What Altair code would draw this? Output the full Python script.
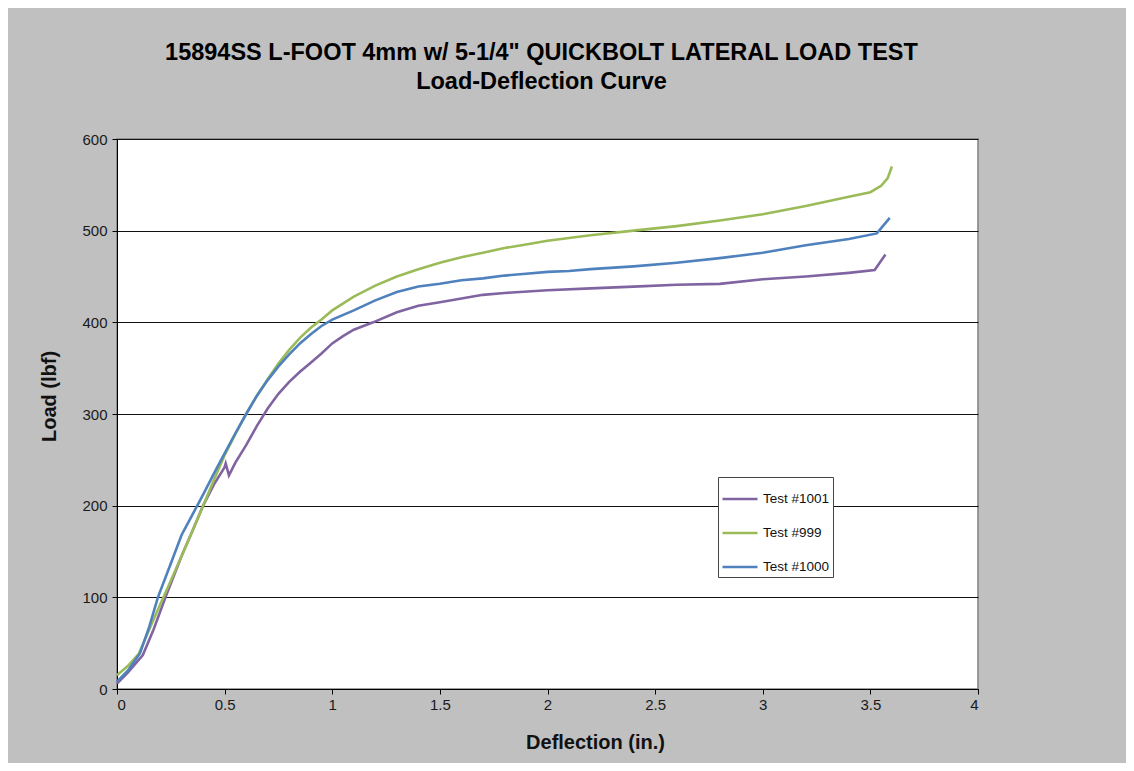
import altair as alt
import pandas as pd

series_names = ["Test #1001", "Test #999", "Test #1000"]
series_colors = ["#8064A2", "#9BBB59", "#4F81BD"]

# Test #1001 (purple)
defl_1001 = [0, 0.05, 0.12, 0.17, 0.225, 0.3, 0.35, 0.4, 0.45, 0.5, 0.505, 0.52, 0.55, 0.6,
             0.65, 0.7, 0.75, 0.8, 0.85, 0.9, 0.95, 1.0, 1.05, 1.1, 1.19, 1.3, 1.4, 1.5,
             1.6, 1.7, 1.8, 2.0, 2.2, 2.4, 2.6, 2.8, 3.0, 3.2, 3.4, 3.52, 3.57]
load_1001 = [6, 18, 37, 65, 100, 145, 172, 200, 223, 242, 246, 233, 247, 266,
             287, 306, 322, 335, 346, 356, 366, 377, 385, 392, 400, 411, 418, 422,
             426, 430, 432, 435, 437, 439, 441, 442, 447, 450, 454, 457, 474]

# Test #999 (green)
defl_999 = [0, 0.05, 0.1, 0.15, 0.2, 0.25, 0.3, 0.35, 0.4, 0.45, 0.5, 0.55, 0.6, 0.65,
            0.7, 0.75, 0.8, 0.85, 0.9, 0.95, 1.0, 1.1, 1.2, 1.3, 1.4, 1.5, 1.6, 1.7,
            1.8, 1.9, 2.0, 2.2, 2.4, 2.6, 2.8, 3.0, 3.2, 3.4, 3.5, 3.55, 3.58, 3.6]
load_999 = [15, 25, 38, 65, 92, 118, 145, 172, 200, 228, 255, 278, 300, 320,
            338, 355, 370, 383, 394, 403, 413, 428, 440, 450, 458, 465, 471, 476,
            481, 485, 489, 495, 500, 505, 511, 518, 527, 537, 542, 549, 557, 570]

# Test #1000 (blue)
defl_1000 = [0, 0.05, 0.107, 0.15, 0.19, 0.25, 0.3, 0.35, 0.4, 0.45, 0.5, 0.55, 0.6, 0.65,
             0.7, 0.75, 0.8, 0.85, 0.9, 0.95, 1.0, 1.1, 1.2, 1.3, 1.4, 1.5, 1.6, 1.7,
             1.8, 1.9, 2.0, 2.1, 2.2, 2.4, 2.6, 2.8, 3.0, 3.2, 3.4, 3.53, 3.59]
load_1000 = [8, 20, 39, 68, 100, 137, 168, 190, 212, 235, 257, 279, 300, 320,
             337, 352, 365, 377, 387, 396, 403, 413, 424, 433, 439, 442, 446, 448,
             451, 453, 455, 456, 458, 461, 465, 470, 476, 484, 491, 497, 514]

x_ticks = [0, 0.5, 1, 1.5, 2, 2.5, 3, 3.5, 4]
y_ticks = [0, 100, 200, 300, 400, 500, 600]

rows = []
for name, xs, ys in [("Test #1001", defl_1001, load_1001),
                     ("Test #999", defl_999, load_999),
                     ("Test #1000", defl_1000, load_1000)]:
    for i, (a, b) in enumerate(zip(xs, ys)):
        rows.append({"Series": name, "Deflection": a, "Load": b, "idx": i})
df = pd.DataFrame(rows)

FONT = "Liberation Sans"

chart = alt.Chart(df).mark_line(strokeWidth=2.6).encode(
    x=alt.X("Deflection:Q",
            scale=alt.Scale(domain=[0, 4], nice=False, zero=False),
            axis=alt.Axis(values=x_ticks, format="~g", grid=False, title="Deflection (in.)",
                          domainColor="black", tickColor="black", tickSize=5,
                          labelFont=FONT, labelFontSize=15, labelColor="#1a1a1a",
                          labelPadding=3,
                          titleFont=FONT, titleFontSize=20, titleFontWeight="bold",
                          titleColor="#111", titleX=478, titleY=53, titleBaseline="middle")),
    y=alt.Y("Load:Q",
            scale=alt.Scale(domain=[0, 600], nice=False),
            axis=alt.Axis(values=y_ticks, grid=True, gridColor="#111", gridWidth=1.2,
                          title="Load (lbf)",
                          domainColor="black", tickColor="black", tickSize=5,
                          labelFont=FONT, labelFontSize=15, labelColor="#1a1a1a",
                          labelPadding=5,
                          titleFont=FONT, titleFontSize=20, titleFontWeight="bold",
                          titleColor="#111", titleX=-68, titleY=257, titleBaseline="middle")),
    color=alt.Color("Series:N",
                    scale=alt.Scale(domain=series_names, range=series_colors),
                    legend=alt.Legend(title=None, orient="none", legendX=601, legendY=338,
                                      symbolType="stroke", symbolSize=1225,
                                      symbolStrokeWidth=2.6, labelFont=FONT,
                                      labelFontSize=13.5, labelColor="#111", labelOffset=4,
                                      fillColor="white", strokeColor="#444",
                                      padding=3, rowPadding=8)),
    order="idx:Q",
).properties(
    width=861,
    height=550,
    autosize=alt.AutoSizeParams(type="none"),
    padding={"left": 109, "top": 131, "right": 148, "bottom": 74},
    background="#c0c0c0",
    title=alt.TitleParams(
        text=["15894SS L-FOOT 4mm w/ 5-1/4\" QUICKBOLT LATERAL LOAD TEST",
              "Load-Deflection Curve"],
        font=FONT, fontSize=23.5, fontWeight="bold", color="black",
        anchor="middle", frame="group", offset=39, lineHeight=29, dx=-6),
).configure_view(stroke="#808080", strokeWidth=1.5, fill="white")

chart.save("out.html", embed_options={"renderer": "svg", "actions": False})
